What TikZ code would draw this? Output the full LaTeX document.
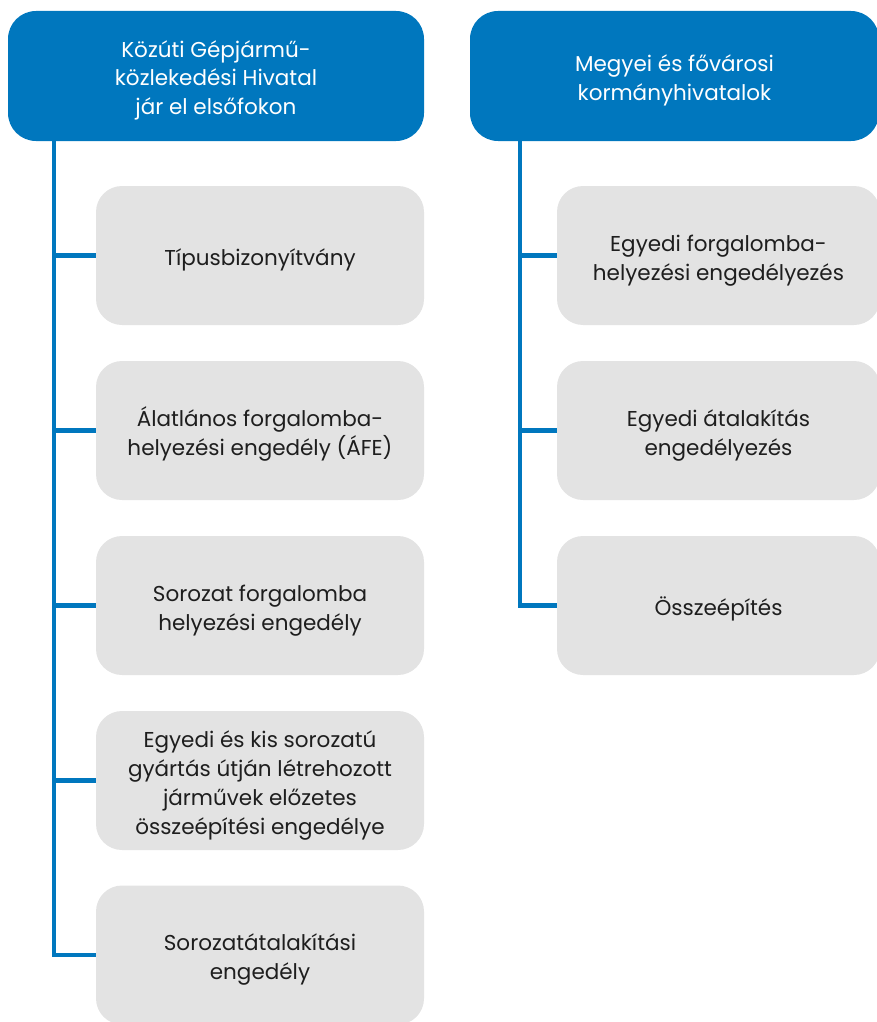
\documentclass[tikz,border=0pt]{standalone}
\usepackage{fontspec}
\setmainfont{Poppins}
\usepackage{tikz}
\usetikzlibrary{positioning, calc}
\definecolor{hivblue}{RGB}{0,119,190}
\definecolor{boxgray}{RGB}{227,227,227}
\definecolor{txtdark}{RGB}{30,30,30}
\newcommand{\fl}{\rule{0pt}{30pt}}

\begin{document}
\begin{tikzpicture}[x=1pt, y=-1pt,
  boxtext/.style={align=center, font=\fontsize{21.5}{29}\selectfont,
    execute at end node={\rule[-10pt]{0pt}{0pt}}},
  header/.style={boxtext, fill=hivblue, text=white, rounded corners=28pt, minimum height=130pt},
  item/.style={boxtext, fill=boxgray, text=txtdark, rounded corners=26pt, minimum height=139pt},
  conn/.style={draw=hivblue, line width=4.5pt}]
  \useasboundingbox (0,0) rectangle (877,1022);

  % headers
  \node (h1) [header, minimum width=416pt] at (216,76) {\fl Közúti Gépjármű-\\közlekedési Hivatal\\jár el elsőfokon};
  \node (h2) [header, minimum width=409pt] at (674.5,76) {\fl Megyei és fővárosi\\kormányhivatalok};

  % left column
  \node (b1) [item, minimum width=328pt] at (260,255.5) {\fl Típusbizonyítvány};
  \node (b2) [item, minimum width=328pt] at (260,430.5) {\fl Álatlános forgalomba-\\helyezési engedély (ÁFE)};
  \node (b3) [item, minimum width=328pt] at (260,605.5) {\fl Sorozat forgalomba\\helyezési engedély};
  \node (b4) [item, minimum width=328pt] at (260,780.5) {\fl Egyedi és kis sorozatú\\gyártás útján létrehozott\\járművek előzetes\\összeépítési engedélye};
  \node (b5) [item, minimum width=328pt] at (260,955) {\fl Sorozatátalakítási\\engedély};

  % right column
  \node (c1) [item, minimum width=323pt] at (718.5,255.5) {\fl Egyedi forgalomba-\\helyezési engedélyezés};
  \node (c2) [item, minimum width=323pt] at (718.5,430.5) {\fl Egyedi átalakítás\\engedélyezés};
  \node (c3) [item, minimum width=323pt] at (718.5,605.5) {\fl Összeépítés};

  \coordinate (t1) at ([xshift=46pt]h1.south west);
  \coordinate (t2) at ([xshift=50pt]h2.south west);

  \draw [conn] (t1) |- (b5.west);
  \foreach \i in {1,...,4}
    \draw [conn] (t1 |- b\i.west) -- (b\i.west);
  \draw [conn] (t2) |- (c3.west);
  \foreach \i in {1,2}
    \draw [conn] (t2 |- c\i.west) -- (c\i.west);
\end{tikzpicture}
\end{document}
